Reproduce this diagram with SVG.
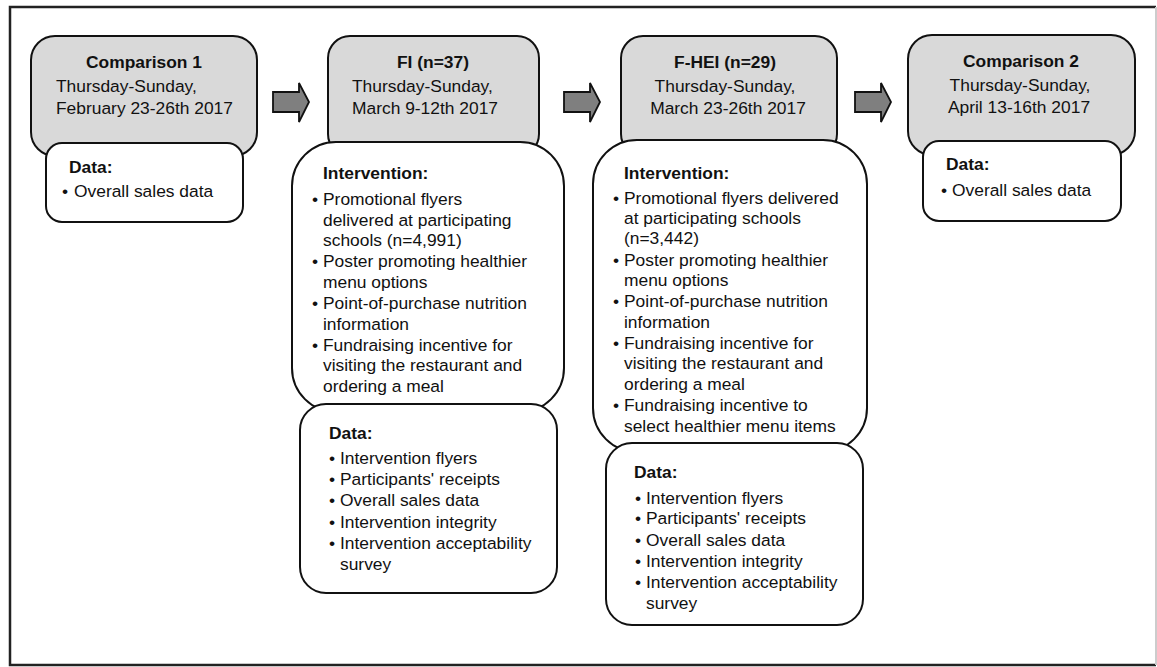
<svg xmlns="http://www.w3.org/2000/svg" width="1157" height="667" viewBox="0 0 1157 667">
<style>
text{font-family:"Liberation Sans",Arial,sans-serif;font-size:17.4px;fill:#111}
.b{font-weight:bold}
.c{text-anchor:middle}
.g{fill:#d9d9d9;stroke:#111;stroke-width:2}
.w{fill:#fff;stroke:#111;stroke-width:2}
.arr{fill:#7f7f7f;stroke:#111;stroke-width:1.8;stroke-linejoin:miter}
</style>
<rect width="1157" height="667" fill="#fff"/>
<path d="M1156 7 H10 V665 H1156" fill="none" stroke="#222" stroke-width="2.5"/>
<line x1="1156" y1="7" x2="1156" y2="665" stroke="#ccc" stroke-width="2"/>

<g id="connectors">
<path class="arr" d="M273 92 H299 V83 L309 102 L299 122 V112 H273 Z"/>
<path class="arr" d="M564 92 H590 V83 L600 102 L590 122 V112 H564 Z"/>
<path class="arr" d="M855 92 H881 V83 L891 102 L881 122 V112 H855 Z"/>
</g>

<g id="comparison1">
<rect class="g" x="31" y="36" width="226" height="120" rx="24"/>
<text class="b c" x="144" y="68">Comparison 1</text>
<text x="56" y="92">Thursday-Sunday,</text>
<text x="56" y="114">February 23-26th 2017</text>
</g>
<g id="comparison1-data">
<rect class="w" x="46" y="143" width="197" height="79" rx="16"/>
<text class="b" x="69" y="173">Data:</text>
<text x="62" y="197">•</text><text x="74" y="197">Overall sales data</text>
</g>

<g id="fi">
<rect class="g" x="328" y="36" width="211" height="120" rx="22"/>
<text class="b c" x="433" y="68">FI (n=37)</text>
<text x="352" y="92">Thursday-Sunday,</text>
<text x="352" y="114">March 9-12th 2017</text>
</g>
<g id="fi-intervention">
<rect class="w" x="292" y="142" width="272" height="270" rx="44"/>
<text class="b" x="323" y="179">Intervention:</text>
<text x="312" y="205">•</text><text x="323" y="205">Promotional flyers</text>
<text x="323" y="226">delivered at participating</text>
<text x="323" y="246">schools (n=4,991)</text>
<text x="312" y="267">•</text><text x="323" y="267">Poster promoting healthier</text>
<text x="323" y="288">menu options</text>
<text x="312" y="309">•</text><text x="323" y="309">Point-of-purchase nutrition</text>
<text x="323" y="330">information</text>
<text x="312" y="351">•</text><text x="323" y="351">Fundraising incentive for</text>
<text x="323" y="371">visiting the restaurant and</text>
<text x="323" y="392">ordering a meal</text>
</g>
<g id="fi-data">
<rect class="w" x="300" y="404" width="257" height="189" rx="26"/>
<text class="b" x="329" y="439">Data:</text>
<text x="329" y="464">•</text><text x="340" y="464">Intervention flyers</text>
<text x="329" y="485">•</text><text x="340" y="485">Participants' receipts</text>
<text x="329" y="506">•</text><text x="340" y="506">Overall sales data</text>
<text x="329" y="528">•</text><text x="340" y="528">Intervention integrity</text>
<text x="329" y="549">•</text><text x="340" y="549">Intervention acceptability</text>
<text x="340" y="570">survey</text>
</g>

<g id="fhei">
<rect class="g" x="621" y="36" width="216" height="120" rx="22"/>
<text class="b c" x="725" y="68">F-HEI (n=29)</text>
<text class="c" x="725" y="92">Thursday-Sunday,</text>
<text class="c" x="728" y="114">March 23-26th 2017</text>
</g>
<g id="fhei-intervention">
<rect class="w" x="593" y="140" width="274" height="312" rx="44"/>
<text class="b" x="624" y="179">Intervention:</text>
<text x="613" y="204">•</text><text x="624" y="204">Promotional flyers delivered</text>
<text x="624" y="224">at participating schools</text>
<text x="624" y="244">(n=3,442)</text>
<text x="613" y="266">•</text><text x="624" y="266">Poster promoting healthier</text>
<text x="624" y="286">menu options</text>
<text x="613" y="307">•</text><text x="624" y="307">Point-of-purchase nutrition</text>
<text x="624" y="328">information</text>
<text x="613" y="349">•</text><text x="624" y="349">Fundraising incentive for</text>
<text x="624" y="369">visiting the restaurant and</text>
<text x="624" y="390">ordering a meal</text>
<text x="613" y="411">•</text><text x="624" y="411">Fundraising incentive to</text>
<text x="624" y="432">select healthier menu items</text>
</g>
<g id="fhei-data">
<rect class="w" x="606" y="443" width="257" height="182" rx="26"/>
<text class="b" x="634" y="478">Data:</text>
<text x="635" y="504">•</text><text x="646" y="504">Intervention flyers</text>
<text x="635" y="524">•</text><text x="646" y="524">Participants' receipts</text>
<text x="635" y="546">•</text><text x="646" y="546">Overall sales data</text>
<text x="635" y="567">•</text><text x="646" y="567">Intervention integrity</text>
<text x="635" y="588">•</text><text x="646" y="588">Intervention acceptability</text>
<text x="646" y="609">survey</text>
</g>

<g id="comparison2">
<rect class="g" x="908" y="35" width="227" height="120" rx="24"/>
<text class="b c" x="1021" y="67">Comparison 2</text>
<text class="c" x="1020" y="91">Thursday-Sunday,</text>
<text class="c" x="1019" y="113">April 13-16th 2017</text>
</g>
<g id="comparison2-data">
<rect class="w" x="923" y="141" width="198" height="80" rx="16"/>
<text class="b" x="946" y="170">Data:</text>
<text x="941" y="196">•</text><text x="952" y="196">Overall sales data</text>
</g>
</svg>
